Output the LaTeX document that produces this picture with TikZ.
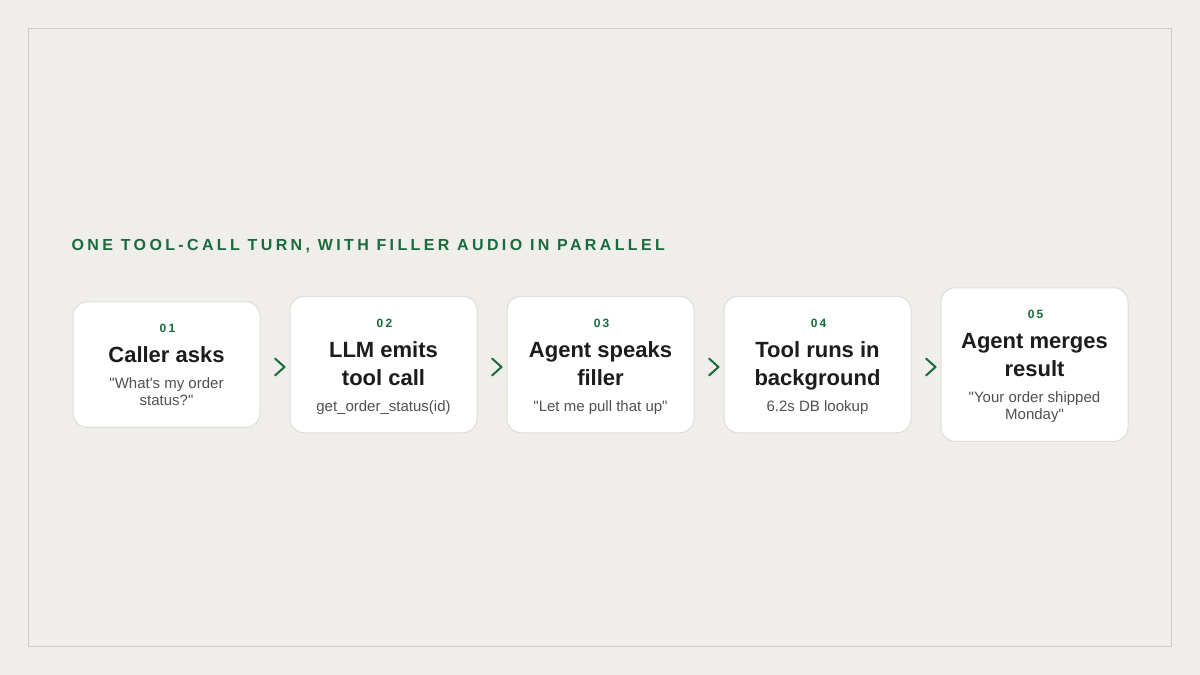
\documentclass[tikz,border=0pt]{standalone}
\usepackage{fontspec}
\setmainfont{Liberation Sans}[Ligatures=TeXOff]
\usetikzlibrary{calc}
\definecolor{bgc}{HTML}{EFEEEA}
\definecolor{framec}{HTML}{CFCDC8}
\definecolor{cardline}{HTML}{E0DDD8}
\definecolor{accent}{HTML}{1A6B3C}
\definecolor{titlec}{HTML}{1C1C1C}
\definecolor{subc}{HTML}{505050}
\tikzset{
  card/.style={draw=cardline, fill=white, line width=1pt, rounded corners=14pt,
    minimum width=187pt, inner sep=0pt},
  numtext/.style={anchor=base, inner sep=0pt, text=accent,
    font=\fontsize{12pt}{14pt}\selectfont\bfseries\addfontfeature{LetterSpace=18}},
  titletext/.style={anchor=base, inner sep=0pt, text=titlec,
    font=\fontsize{22pt}{26pt}\selectfont\bfseries},
  subtext/.style={anchor=base, inner sep=0pt, text=subc,
    font=\fontsize{15pt}{17pt}\selectfont},
  headtext/.style={anchor=base west, inner sep=0pt, text=accent,
    font=\fontsize{16pt}{18pt}\selectfont\bfseries\addfontfeature{LetterSpace=21}},
  chev/.style={draw=accent, line width=2pt, line cap=round, line join=round}
}
\begin{document}
\begin{tikzpicture}[x=1pt,y=-1pt]
\fill[bgc] (0,0) rectangle (1200,675);
\useasboundingbox (0,0) rectangle (1200,675);
\draw[framec, line width=1pt] (28.5,28.5) rectangle (1171.5,646.5);

\node[headtext] (head) at (71.5,250) {ONE TOOL-CALL TURN, WITH FILLER AUDIO IN PARALLEL};

% card 1
\node[card, minimum height=125.5pt] (c1) at (166.5,364.5) {};
\node[numtext] (c1n) at (167.5,332.75) {01};
\node[titletext] (c1t1) at (166.5,362.75) {Caller asks};
\node[subtext] (c1s1) at (166.5,388.75) {"What's my order};
\node[subtext] (c1s2) at (166.5,405.75) {status?"};

% card 2
\node[card, minimum height=136.5pt] (c2) at (383.5,364.5) {};
\node[numtext] (c2n) at (384.5,327.25) {02};
\node[titletext] (c2t1) at (383.5,357.25) {LLM emits};
\node[titletext] (c2t2) at (383.5,385.25) {tool call};
\node[subtext] (c2s1) at (383.5,411.25) {get\_order\_status(id)};

% card 3
\node[card, minimum height=136.5pt] (c3) at (600.5,364.5) {};
\node[numtext] (c3n) at (601.5,327.25) {03};
\node[titletext] (c3t1) at (600.5,357.25) {Agent speaks};
\node[titletext] (c3t2) at (600.5,385.25) {filler};
\node[subtext] (c3s1) at (600.5,411.25) {"Let me pull that up"};

% card 4
\node[card, minimum height=136.5pt] (c4) at (817.5,364.5) {};
\node[numtext] (c4n) at (818.5,327.25) {04};
\node[titletext] (c4t1) at (817.5,357.25) {Tool runs in};
\node[titletext] (c4t2) at (817.5,385.25) {background};
\node[subtext] (c4s1) at (817.5,411.25) {6.2s DB lookup};

% card 5
\node[card, minimum height=153.5pt] (c5) at (1034.5,364.5) {};
\node[numtext] (c5n) at (1035.5,318.75) {05};
\node[titletext] (c5t1) at (1034.5,348.75) {Agent merges};
\node[titletext] (c5t2) at (1034.5,376.75) {result};
\node[subtext] (c5s1) at (1034.5,402.75) {"Your order shipped};
\node[subtext] (c5s2) at (1034.5,419.75) {Monday"};

% chevrons
\foreach \a/\b in {c1/c2,c2/c3,c3/c4,c4/c5}{
  \coordinate (g\a) at ($(\a.east)!0.5!(\b.west)$);
  \draw[chev] (g\a |- 0,358.5) -- ++(9.5,8.5) -- ++(-9.5,8.5);
}
\end{tikzpicture}
\end{document}
